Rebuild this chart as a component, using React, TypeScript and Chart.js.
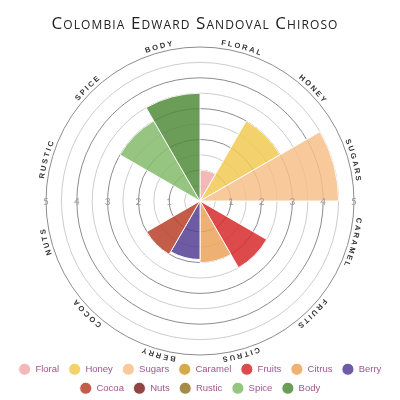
import { useEffect, useRef } from 'react';
import Chart from 'chart.js/auto';

const TITLE = 'Colombia Edward Sandoval Chiroso';

const FLAVOURS = ['Floral', 'Honey', 'Sugars', 'Caramel', 'Fruits', 'Citrus', 'Berry', 'Cocoa', 'Nuts', 'Rustic', 'Spice', 'Body'];
const SCORES = [1, 3, 4.5, 0, 2.5, 2, 1.9, 2, 0, 0, 3, 3.5];
const RING_LABELS = [1, 2, 3, 4, 5];

const COLOURS = [
  'rgba(241,173,173,0.85)', // floral
  'rgba(241,202,84,0.85)', // honey
  'rgba(247,193,137,0.85)', // sugars
  'rgba(204,155,43,0.85)', // caramel
  'rgba(215,42,44,0.85)', // fruits
  'rgba(235,163,90,0.85)', // citrus
  'rgba(84,64,147,0.85)', // berry
  'rgba(184,64,40,0.85)', // cocoa
  'rgba(126,37,37,0.85)', // nuts
  'rgba(148,119,42,0.85)', // rustic
  'rgba(132,187,108,0.85)', // spice
  'rgba(81,140,60,0.85)', // body
];

const LETTER_GAP = 2;

// small caps title across the top
const titlePlugin = {
  id: 'smallCapsTitle',
  afterDraw(chart: any) {
    const { ctx } = chart;
    ctx.save();
    ctx.font = '17px "Open Sans"';
    ctx.fontVariantCaps = 'small-caps';
    ctx.letterSpacing = '1.1px';
    ctx.fillStyle = '#222';
    ctx.textAlign = 'center';
    ctx.textBaseline = 'alphabetic';
    ctx.fillText(TITLE, 195, 28.5);
    ctx.restore();
  },
};

// ring values written along the horizontal, both sides
const ringLabelsPlugin = {
  id: 'ringLabels',
  afterDatasetsDraw(chart: any) {
    const { ctx } = chart;
    const scale = chart.scales.r;
    ctx.save();
    ctx.font = '10px Lato';
    ctx.fillStyle = '#9a9a9a';
    ctx.textAlign = 'center';
    ctx.textBaseline = 'middle';
    RING_LABELS.forEach((v) => {
      const d = scale.getDistanceFromCenterForValue(v);
      ctx.fillText(String(v), scale.xCenter + d, scale.yCenter + 1);
      ctx.fillText(String(v), scale.xCenter - d, scale.yCenter + 1);
    });
    ctx.restore();
  },
};

// flavour names bent round the outer ring
const curvedLabelsPlugin = {
  id: 'curvedLabels',
  afterDraw(chart: any) {
    const { ctx } = chart;
    const scale = chart.scales.r;
    const cx = scale.xCenter;
    const cy = scale.yCenter;
    const radius = scale.drawingArea + 3.5;
    const arcs = chart.getDatasetMeta(0).data;
    ctx.save();
    ctx.font = 'bold 7.5px "Liberation Sans"';
    ctx.fillStyle = '#333';
    ctx.textAlign = 'center';
    ctx.textBaseline = 'alphabetic';
    FLAVOURS.forEach((name, i) => {
      const arc = arcs[i];
      const mid = (arc.startAngle + arc.endAngle) / 2;
      const chars = name.toUpperCase().split('');
      const widths = chars.map((c) => ctx.measureText(c).width);
      const total = widths.reduce((a, b) => a + b, 0) + LETTER_GAP * (chars.length - 1);
      let a = mid - total / radius / 2;
      chars.forEach((c, j) => {
        const ang = a + widths[j] / 2 / radius;
        ctx.save();
        ctx.translate(cx + radius * Math.cos(ang), cy + radius * Math.sin(ang));
        ctx.rotate(ang + Math.PI / 2);
        ctx.fillText(c, 0, 0);
        ctx.restore();
        a += (widths[j] + LETTER_GAP) / radius;
      });
    });
    ctx.restore();
  },
};

export default function App() {
  const canvasRef = useRef<HTMLCanvasElement>(null);

  useEffect(() => {
    if (!canvasRef.current) return;
    const chart = new Chart(canvasRef.current, {
      type: 'polarArea',
      data: {
        labels: FLAVOURS,
        datasets: [{
          data: SCORES,
          backgroundColor: COLOURS,
          borderColor: 'rgba(255,255,255,0.9)',
          borderWidth: 1,
        }],
      },
      options: {
        animation: false,
        responsive: true,
        maintainAspectRatio: false,
        layout: { padding: { top: 47, bottom: 0, left: 0, right: 0 } },
        scales: {
          r: {
            min: 0,
            max: 5,
            ticks: { display: false, stepSize: 0.5 },
            grid: {
              color: (ctx: any) => (Number.isInteger(ctx.tick.value) ? '#8c8c8c' : '#cdcdcd'),
              lineWidth: 1,
            },
            angleLines: { display: false },
            pointLabels: { display: false },
          },
        },
        plugins: {
          legend: {
            position: 'bottom',
            labels: {
              usePointStyle: true,
              pointStyle: 'circle',
              boxHeight: 8.5,
              pointStyleWidth: 12,
              padding: 9.5,
              color: '#a0568f',
              font: { size: 9.5, family: '"Liberation Sans", Arial, sans-serif' },
            },
          },
          tooltip: { enabled: false },
        },
      },
      plugins: [titlePlugin, ringLabelsPlugin, curvedLabelsPlugin],
    });
    return () => chart.destroy();
  }, []);

  return (
    <div style={{ position: 'fixed', left: 0, top: 0, width: 400, height: 403, background: '#fff' }}>
      <canvas ref={canvasRef} />
    </div>
  );
}
